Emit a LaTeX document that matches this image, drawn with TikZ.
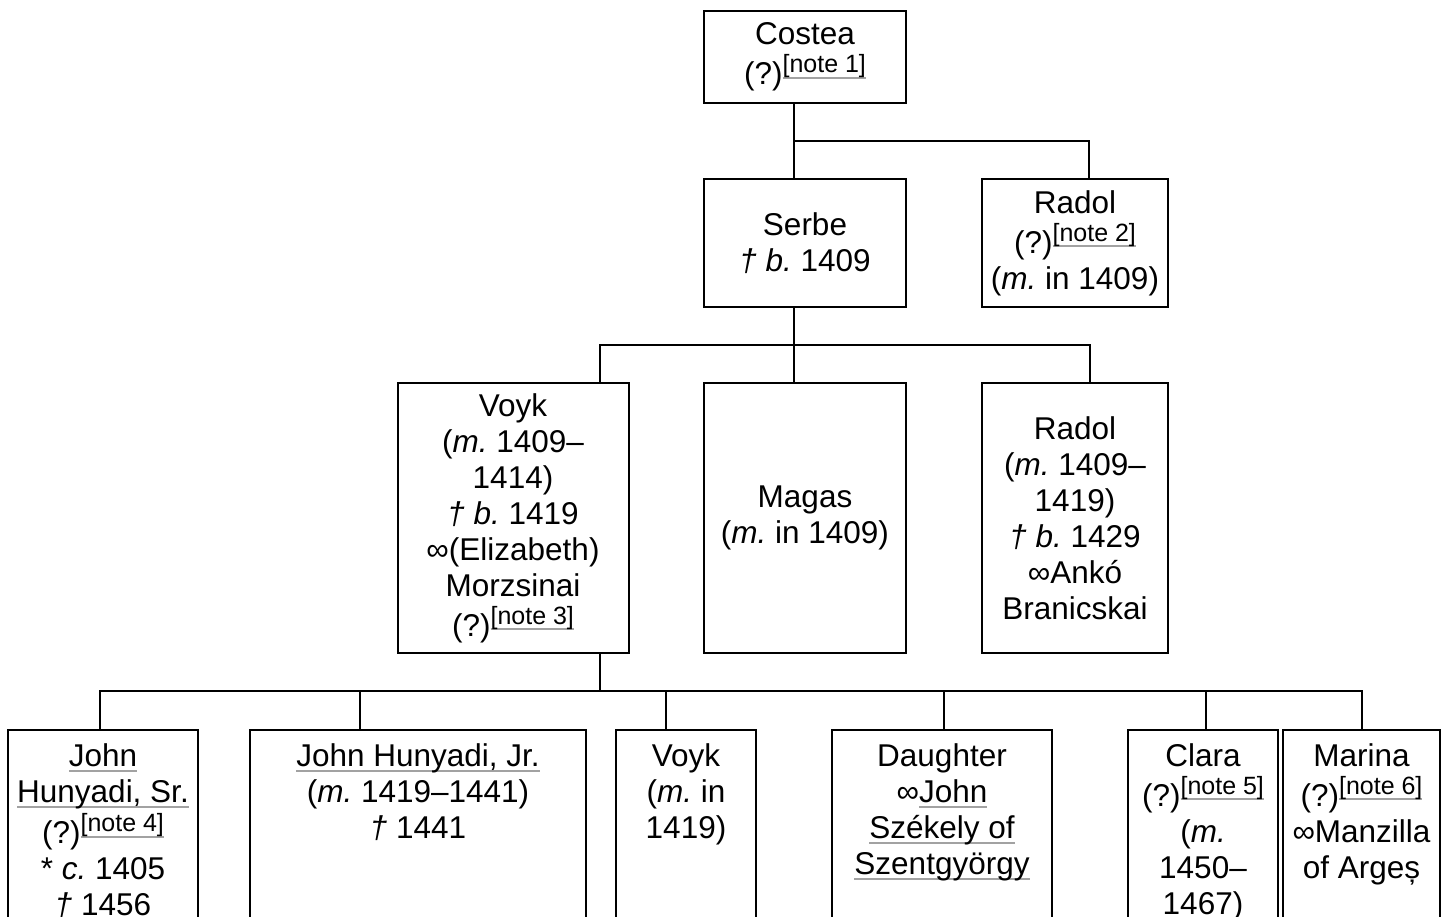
\documentclass[tikz,border=0pt]{standalone}
\usepackage{fontspec}
\setmainfont{Liberation Sans}
\definecolor{ulgray}{HTML}{A2A2A2}
\frenchspacing
\newcommand\mainfs{\fontsize{31.5}{36}\selectfont\frenchspacing}
\newcommand\notefs{\fontsize{25}{25}\selectfont}
\newcommand\itx[1]{{\itshape #1}}
\newsavebox\lkbox
\newcommand\lk[1]{\sbox\lkbox{#1}\rlap{\textcolor{ulgray}{\rule[-6pt]{\wd\lkbox}{2pt}}}\usebox\lkbox}
\newcommand\nt[1]{\raisebox{12pt}{\notefs\lk{[note #1]}}}
\tikzset{
  box/.style={draw, line width=2pt, inner sep=0pt, align=center, font=\mainfs},
  txt/.style={inner sep=0pt, align=center, font=\mainfs},
  conn/.style={line width=2pt}
}
\begin{document}
\begin{tikzpicture}[x=1pt,y=-1pt]
\useasboundingbox (0,0) rectangle (1445,916);
\clip (0,0) rectangle (1445,916);
% generation 0
\node[box, minimum width=202, minimum height=92] (costea) at (805,57) {Costea\\[4pt](?)\nt{1}};
% generation 1
\node[box, minimum width=202, minimum height=128] (serbe) at (805,243) {Serbe\\\itx{† b.} 1409};
\node[box, minimum width=186, minimum height=128] (radol) at (1075,243) {Radol\\[4pt](?)\nt{2}\\(\itx{m.} in 1409)};
% generation 2
\node[box, minimum width=231, minimum height=270] (voyk) at (513,518) {Voyk\\(\itx{m.} 1409–\\1414)\\\itx{† b.} 1419\\∞(Elizabeth)\\Morzsinai\\[4pt](?)\nt{3}};
\node[box, minimum width=202, minimum height=270] (magas) at (805,518) {Magas\\(\itx{m.} in 1409)};
\node[box, minimum width=186, minimum height=270] (radolb) at (1075,518) {Radol\\(\itx{m.} 1409–\\1419)\\\itx{† b.} 1429\\∞Ankó\\Branicskai};
% generation 3 boxes
\node[box, anchor=north, minimum width=190, minimum height=260] (jsr) at (103,729) {};
\node[box, anchor=north, minimum width=336, minimum height=260] (jjr) at (418,729) {};
\node[box, anchor=north, minimum width=140, minimum height=260] (voykb) at (686,729) {};
\node[box, anchor=north, minimum width=220, minimum height=260] (dau) at (942,729) {};
\node[box, anchor=north, minimum width=150, minimum height=260] (clara) at (1203,729) {};
\node[box, anchor=north, minimum width=157, minimum height=260] (marina) at (1361.5,729) {};
% generation 3 texts
\node[txt, anchor=north] (jsrt) at (103,743) {\lk{John}\\\lk{Hunyadi, Sr.}\\[4pt](?)\nt{4}\\{*} \itx{c.} 1405\\\itx{†} 1456};
\node[txt, anchor=north] (jjrt) at (418,743) {\lk{John Hunyadi, Jr.}\\(\itx{m.} 1419–1441)\\\itx{†} 1441};
\node[txt, anchor=north] (voykbt) at (686,743) {Voyk\\(\itx{m.} in\\1419)};
\node[txt, anchor=north] (daut) at (942,743) {Daughter\\∞\lk{John}\\\lk{Székely of}\\\lk{Szentgyörgy}};
\node[txt, anchor=north] (clarat) at (1203,743) {Clara\\[4pt](?)\nt{5}\\(\itx{m.}\\1450–\\1467)};
\node[txt, anchor=north] (marinat) at (1361.5,743) {Marina\\[4pt](?)\nt{6}\\∞Manzilla\\of Argeș};
% junction coordinates
\coordinate (j0) at (794,141);
\coordinate (j0r) at (1089,141);
\coordinate (j1) at (794,345);
\coordinate (j1l) at (600,345);
\coordinate (j1r) at (1090,345);
\coordinate (j2) at (600,691);
\coordinate (k1) at (100,691);
\coordinate (k2) at (360,691);
\coordinate (k3) at (666,691);
\coordinate (k4) at (944,691);
\coordinate (k5) at (1206,691);
\coordinate (k6) at (1362,691);
% connectors
\draw[conn] (j0 |- costea.south) -- (j0 |- serbe.north);
\draw[conn] (j0) -- (j0r) -- (j0r |- radol.north);
\draw[conn] (j1 |- serbe.south) -- (j1 |- magas.north);
\draw[conn] (j1l |- voyk.north) -- (j1l) -- (j1r) -- (j1r |- radolb.north);
\draw[conn] (j2 |- voyk.south) -- (j2);
\draw[conn] (k1 |- jsr.north) -- (k1) -- (k6) -- (k6 |- marina.north);
\draw[conn] (k2) -- (k2 |- jjr.north);
\draw[conn] (k3) -- (k3 |- voykb.north);
\draw[conn] (k4) -- (k4 |- dau.north);
\draw[conn] (k5) -- (k5 |- clara.north);
\end{tikzpicture}
\end{document}
